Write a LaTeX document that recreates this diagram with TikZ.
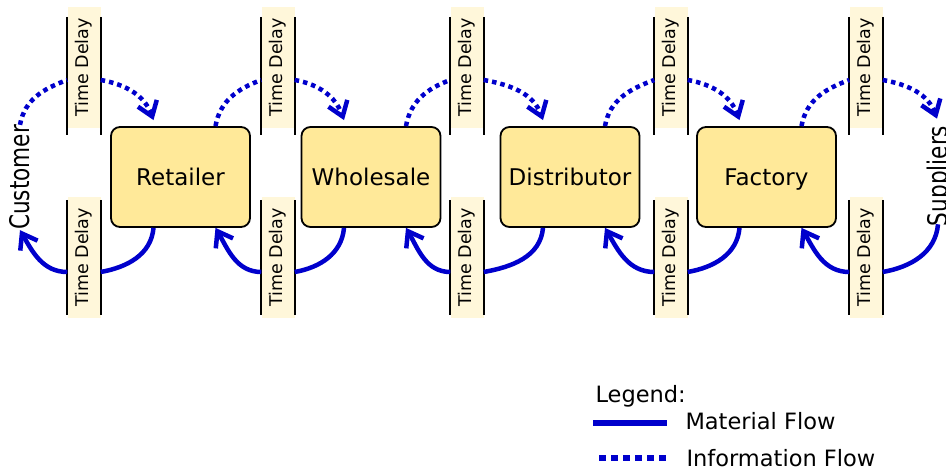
\documentclass[tikz,border=0pt]{standalone}
\usepackage{fontspec}
\usepackage{graphicx}
\setmainfont{DejaVu Sans}
\usetikzlibrary{arrows.meta,calc}

\definecolor{flowblue}{RGB}{0,0,204}
\definecolor{stagefill}{RGB}{255,233,153}
\definecolor{delayfill}{RGB}{255,247,218}

\tikzset{
  stage/.style={draw=black, line width=1.8pt, fill=stagefill, rounded corners=9pt,
    minimum width=139pt, minimum height=100pt, inner sep=0pt,
    text height=17pt, text depth=0pt,
    font=\fontsize{23}{26}\selectfont},
  delay/.style={fill=delayfill, minimum width=33pt, minimum height=121pt, inner sep=0pt,
    font=\fontsize{17.5}{20}\selectfont},
  endpoint/.style={rotate=90, inner sep=0pt, font=\fontsize{27}{30}\selectfont},
  material/.style={draw=flowblue, line width=4.5pt},
  info/.style={draw=flowblue, line width=4.5pt, dash pattern=on 4.5pt off 4pt},
  flowtip/.style={-{Straight Barb[length=14pt,width=20pt]}},
  legendtext/.style={anchor=base west, font=\fontsize{22.5}{26}\selectfont},
}

\begin{document}
\begin{tikzpicture}[x=1pt,y=1pt]
    \useasboundingbox (0,0) rectangle (946,470);

    % supply chain stages
    \node[stage] (retailer) at (180.5,293) {Retailer};
    \node[stage] (wholesale) at (371,293) {Wholesale};
    \node[stage] (distributor) at (570,293) {Distributor};
    \node[stage] (factory) at (766.5,293) {Factory};

    \node[endpoint] (customer) at (20,292.5) {\scalebox{0.8}[1]{Customer}};
    \node[endpoint] (suppliers) at (940.5,294) {\scalebox{0.8}[1]{Suppliers}};

    % delay bars, information row on top, material row below
    \foreach \n/\x in {1/84, 2/278, 3/467, 4/671, 5/866} {
        \node[delay] (ib\n) at (\x,402.5) {\rotatebox{90}{Time Delay}};
        \node[delay] (mb\n) at (\x,212.5) {\rotatebox{90}{Time Delay}};
        \draw[line width=2pt] ([yshift=-10pt]ib\n.north west) -- ([yshift=-7pt]ib\n.south west);
        \draw[line width=2pt] ([yshift=-10pt]ib\n.north east) -- ([yshift=-7pt]ib\n.south east);
        \draw[line width=2pt] ([yshift=-3pt]mb\n.north west) -- ([yshift=3pt]mb\n.south west);
        \draw[line width=2pt] ([yshift=-3pt]mb\n.north east) -- ([yshift=3pt]mb\n.south east);
    }

    % ports on each stage
    \foreach \b in {retailer, wholesale, distributor, factory} {
        \coordinate (\b-iin) at ([xshift=-27pt,yshift=6pt]\b.north);
        \coordinate (\b-iout) at ([xshift=35pt]\b.north);
        \coordinate (\b-mout) at ([xshift=-27pt]\b.south);
        \coordinate (\b-min) at ([xshift=35pt]\b.south);
    }
    \coordinate (customer-iout) at (customer.east);
    \coordinate (customer-min) at (customer.west);
    \coordinate (suppliers-iin) at ([xshift=-3.5pt,yshift=7pt]suppliers.east);
    \coordinate (suppliers-mout) at ([xshift=-2.5pt,yshift=2pt]suppliers.west);

    % flows through the chain
    \foreach \src/\n/\dst in {customer/1/retailer, retailer/2/wholesale, wholesale/3/distributor,
                               distributor/4/factory, factory/5/suppliers} {
        \draw[info] (\src-iout) to[out=80,in=200] ([yshift=-12.5pt]ib\n.west);
        \draw[info,flowtip] ([yshift=-12.5pt]ib\n.east) to[out=-10,in=110] (\dst-iin);
        \draw[material] (\dst-mout) to[out=-95,in=10] ([yshift=-14.5pt]mb\n.east);
        \draw[material,flowtip] ([yshift=-14.5pt]mb\n.west) to[out=180,in=-60] (\src-min);
    }

    % legend
    \node[legendtext] (legend) at (592,67) {Legend:};
    \coordinate (mat-a) at (593,47);
    \coordinate (mat-b) at (667,47);
    \draw[material,line width=6pt] (mat-a) -- (mat-b);
    \node[legendtext] (matlabel) at (682,40) {Material Flow};
    \coordinate (inf-a) at (599,12);
    \coordinate (inf-b) at (667,12);
    \draw[info,line width=6pt,dash pattern=on 7pt off 5pt] (inf-a) -- (inf-b);
    \node[legendtext] (inflabel) at (683,3) {Information Flow};
\end{tikzpicture}
\end{document}
